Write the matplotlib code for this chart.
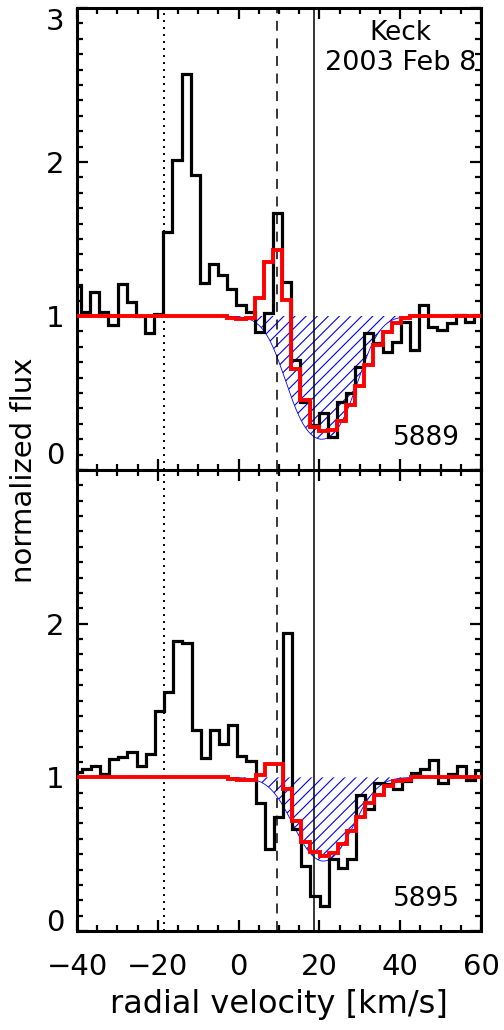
import numpy as np
import matplotlib
matplotlib.use("Agg")
import matplotlib.pyplot as plt
from matplotlib.ticker import MultipleLocator

plt.rcParams['font.family'] = ['DejaVu Sans']
plt.rcParams['hatch.linewidth'] = 0.8

# bin centres [km/s] of the two Na D spectra
vel_5889 = [-40.13, -37.87, -35.61, -33.34, -31.08, -28.82, -26.56, -24.30, -22.03,
            -19.77, -17.51, -15.25, -12.99, -10.72, -8.46, -6.20, -3.94, -1.68,
            0.59, 2.85, 5.11, 7.37, 9.63, 11.90, 14.16, 16.42, 18.68, 20.94,
            23.21, 25.47, 27.73, 29.99, 32.25, 34.52, 36.78, 39.04, 41.30,
            43.56, 45.83, 48.09, 50.35, 52.61, 54.87, 57.14, 59.40]
vel_5895 = [-39.96, -37.70, -35.43, -33.17, -30.90, -28.64, -26.38, -24.11, -21.85,
            -19.58, -17.32, -15.06, -12.79, -10.53, -8.26, -6.00, -3.74, -1.47,
            0.79, 3.06, 5.32, 7.58, 9.85, 12.11, 14.38, 16.64, 18.90, 21.17,
            23.43, 25.70, 27.96, 30.22, 32.49, 34.75, 37.02, 39.28, 41.54,
            43.81, 46.07, 48.34, 50.60, 52.86, 55.13, 57.39, 59.66]

# observed normalized flux
flux_5889 = [1.195, 1.028, 1.158, 1.028, 0.94, 1.208, 1.093, 1.0, 0.89, 1.01,
             1.543, 2.013, 2.571, 1.916, 1.212, 1.337, 1.266, 1.175, 1.071, 1.028,
             0.898, 1.02, 1.667, 1.223, 0.714, 0.444, 0.292, 0.368, 0.214, 0.444,
             0.503, 0.667, 0.89, 0.823, 0.768, 0.833, 0.958, 0.777, 1.071, 0.93,
             0.907, 0.952, 1.008, 0.963, 1.008]
flux_5895 = [1.034, 1.054, 1.071, 1.021, 1.12, 1.135, 1.168, 1.077, 1.15, 1.43,
             1.555, 1.888, 1.877, 1.311, 1.125, 1.311, 1.217, 1.34, 1.14, 1.105,
             0.834, 0.533, 0.742, 1.937, 0.662, 0.426, 0.228, 0.161, 0.469, 0.411,
             0.469, 0.888, 0.792, 0.963, 0.957, 0.921, 0.974, 1.028, 1.054, 1.11,
             0.963, 1.021, 1.071, 0.983, 1.045]

# binned model fit (red)
fit_5889 = [1.0] * 17 + [0.985, 0.98, 0.985, 1.119, 1.353, 1.43, 1.104, 0.656,
                         0.455, 0.277, 0.255, 0.26, 0.32, 0.422, 0.545, 0.682,
                         0.812, 0.898, 0.952, 0.985] + [1.0] * 8
fit_5895 = [1.0] * 17 + [0.99, 0.985, 0.985, 1.017, 1.088, 1.088, 0.927, 0.716,
                         0.576, 0.512, 0.49, 0.508, 0.566, 0.652, 0.742, 0.834,
                         0.888, 0.946, 0.974, 0.985] + [1.0] * 8

# absorption component (blue): centre, central optical depth, width
abs_centre = {'5889': 20.6, '5895': 21.0}
abs_tau0 = {'5889': 1.61, '5895': 0.787}
abs_sigma = 6.1

v_dotted, v_dashed, v_solid = -18.4, 9.4, 18.6


def edges_of(c):
    c = np.asarray(c)
    w = c[1] - c[0]
    return np.concatenate([[c[0] - w / 2], (c[1:] + c[:-1]) / 2, [c[-1] + w / 2]])


fig = plt.figure(figsize=(5.04, 10.30), dpi=100)
ax1 = fig.add_axes([0.1528, 0.5437, 0.8016, 0.4485])
ax2 = fig.add_axes([0.1528, 0.0961, 0.8016, 0.4476])

panels = [(ax1, '5889', vel_5889, flux_5889, fit_5889),
          (ax2, '5895', vel_5895, flux_5895, fit_5895)]

vfine = np.linspace(-40, 60, 800)
for ax, name, vel, flux, fit in panels:
    e = edges_of(vel)
    model = np.exp(-abs_tau0[name] * np.exp(-(vfine - abs_centre[name]) ** 2 / (2 * abs_sigma ** 2)))
    ax.fill_between(vfine, model, 1.0, facecolor='none', edgecolor='blue',
                    hatch='///', linewidth=0, zorder=1)
    ax.plot(vfine, model, color='blue', lw=0.6, zorder=2)

    ax.axvline(v_dotted, color='black', lw=1.4, ls=(0, (1, 2.6)), zorder=2)
    ax.axvline(v_dashed, color='black', lw=1.1, ls=(0, (6.5, 5)), zorder=2)
    ax.axvline(v_solid, color='black', lw=1.1, zorder=2)

    ax.stairs(flux, e, baseline=None, color='black', lw=2.3, zorder=3)
    ax.stairs(fit, e, baseline=None, color='red', lw=2.8, zorder=4)

    ax.set_xlim(-40, 60)
    ax.set_ylim(0, 3)
    ax.xaxis.set_major_locator(MultipleLocator(20))
    ax.xaxis.set_minor_locator(MultipleLocator(5))
    ax.tick_params(which='both', direction='in', top=True, right=True, width=1.6)
    ax.tick_params(which='major', length=8, labelsize=21)
    ax.tick_params(which='minor', length=4)
    ax.tick_params(axis='y', pad=9)
    ax.tick_params(axis='x', pad=16)
    for s in ax.spines.values():
        s.set_linewidth(2.2)

    ax.text(46.4, 0.21, name, fontsize=19, ha='center', va='center')

# IDL-style: end labels pulled inside the panel
ax1.set_yticks([0, 1, 2, 3], labels=['0', '1', '2', '3'])
ax2.set_yticks([0, 1, 2], labels=['0', '1', '2'])
for ax in (ax1, ax2):
    ax.yaxis.set_minor_locator(MultipleLocator(0.1))
lab1 = ax1.get_yticklabels()
lab1[0].set_va('bottom')
lab1[3].set_va('top')
ax2.get_yticklabels()[0].set_va('baseline')
ax1.tick_params(labelbottom=False)

ax1.text(40, 2.84, 'Keck', fontsize=19, ha='center', va='center')
ax1.text(40, 2.64, '2003 Feb 8', fontsize=19.5, ha='center', va='center')

fig.text(24 / 504, 0.5437, 'normalized flux', rotation=90, fontsize=21,
         ha='center', va='center')
fig.text(279 / 504, 1 - 1005 / 1030, 'radial velocity [km/s]', fontsize=23,
         ha='center', va='center')

fig.savefig('out.png', dpi=100)
